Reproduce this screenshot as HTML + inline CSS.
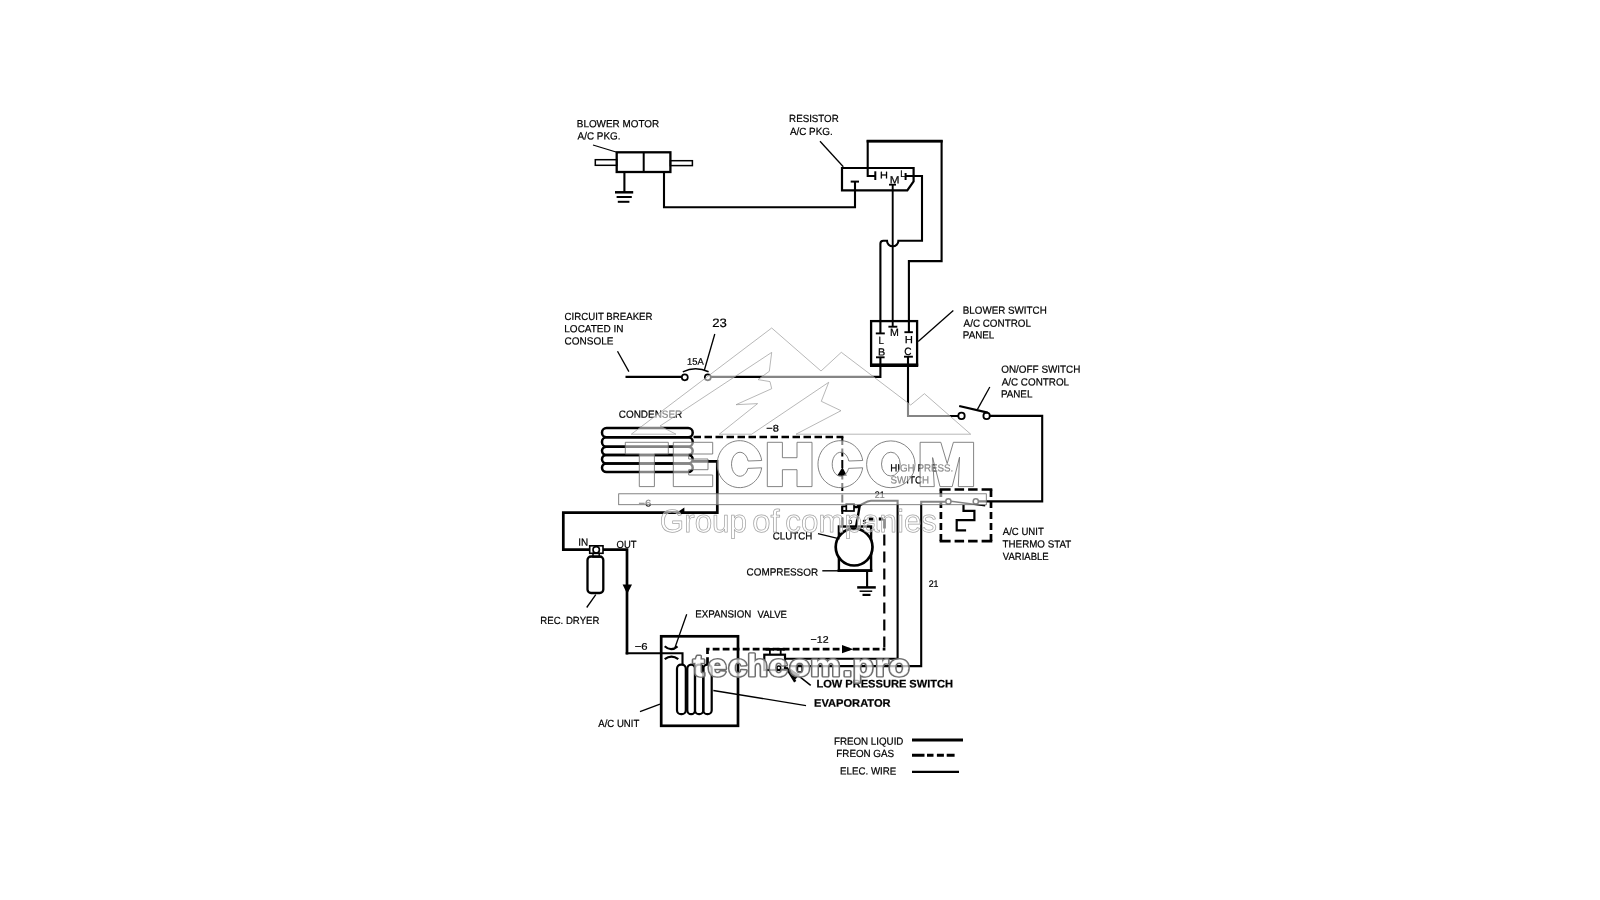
<!DOCTYPE html>
<html><head><meta charset="utf-8"><title>A/C schematic</title>
<style>
html,body{margin:0;padding:0;background:#fff;}
svg{display:block;}
text{font-family:"Liberation Sans",sans-serif;text-rendering:geometricPrecision;}
</style></head><body>
<svg width="1600" height="900" viewBox="0 0 1600 900" style="filter:grayscale(1)">
<rect width="1600" height="900" fill="#fff"/>
<g fill="none" stroke="#000" stroke-linejoin="miter" stroke-linecap="butt">
<rect x="616.7" y="152.3" width="53.7" height="19.7" rx="0" stroke-width="2.3" />
<path d="M643.7,152.3 L643.7,172.0" stroke-width="2.0" />
<rect x="595.3" y="159.7" width="21.4" height="5.6" rx="0" stroke-width="1.5" />
<rect x="670.4" y="160.7" width="22.0" height="4.9" rx="0" stroke-width="1.5" />
<path d="M593.0,145.0 L616.0,152.0" stroke-width="1.3" />
<path d="M624.4,172.0 L624.4,192.0" stroke-width="2.1" />
<path d="M615.0,192.3 L633.2,192.3" stroke-width="2.5" />
<path d="M616.6,197.0 L631.8,197.0" stroke-width="2.0" />
<path d="M617.8,201.8 L629.4,201.8" stroke-width="2.0" />
<path d="M664.0,172.0 L664.0,207.3 L855.0,207.3 L855.0,181.6" stroke-width="2.1" />
<path d="M842.0,168.0 L913.6,168.0 L913.6,181.3 L907.3,190.4 L842.0,190.4 Z" stroke-width="2.2" />
<path d="M850.7,181.6 L859.0,181.6" stroke-width="2.0" />
<path d="M875.3,176.0 L867.7,176.0 L867.7,141.3 L941.6,141.3 L941.6,261.1 L908.9,261.1 L908.9,332.2" stroke-width="2.1" />
<path d="M866.6,141.2 L942.7,141.2" stroke-width="2.7" />
<path d="M875.3,171.3 L875.3,180.0" stroke-width="2.0" />
<path d="M889.0,184.7 L896.0,184.7" stroke-width="1.8" />
<path d="M892.7,184.7 L892.7,326.7" stroke-width="1.9" />
<path d="M905.6,173.0 L905.6,180.0" stroke-width="2.0" />
<path d="M905.6,176 L922,176 L922,240.7 L898.4,240.7 A5.7 5.6 0 0 1 887,240.7 L883.4,240.7 Q880.4,240.7 880.4,243.7 L880.4,333.3" stroke-width="2.1"/>
<path d="M820.0,141.3 L843.3,166.7" stroke-width="1.3" />
<rect x="871.1" y="321.1" width="46.0" height="43.9" rx="0" stroke-width="2.3" />
<path d="M870.0,365.3 L918.2,365.3" stroke-width="3.4" />
<path d="M875.8,333.4 L884.8,333.4" stroke-width="1.9" />
<path d="M888.4,326.7 L897.3,326.7" stroke-width="1.9" />
<path d="M904.4,332.2 L912.9,332.2" stroke-width="1.9" />
<path d="M876.0,357.3 L884.6,357.3" stroke-width="1.9" />
<path d="M904.0,356.7 L912.9,356.7" stroke-width="1.9" />
<path d="M880.4,357.3 L880.4,376.9 L710.5,376.9" stroke-width="2.1" />
<path d="M908.0,356.7 L908.0,416.0 L958.4,416.0" stroke-width="2.1" />
<path d="M953.3,310.4 L918.2,341.6" stroke-width="1.3" />
<path d="M625.5,376.9 L682.0,376.9" stroke-width="2.1" />
<circle cx="684.8" cy="377.3" r="3.0" stroke-width="1.7" />
<circle cx="707.8" cy="377.3" r="3.0" stroke-width="1.7" />
<path d="M682.8,371.8 Q695.5,365.6 708.6,371.8" stroke-width="1.5"/>
<path d="M714.8,334.0 L704.4,370.0" stroke-width="1.3" />
<path d="M617.5,351.3 L628.9,371.6" stroke-width="1.3" />
<circle cx="961.5" cy="415.9" r="3.2" stroke-width="1.8" />
<circle cx="986.6" cy="415.9" r="3.2" stroke-width="1.8" />
<path d="M959.2,406.0 L987.7,412.7" stroke-width="2.3" />
<path d="M989.8,387.0 L977.3,409.6" stroke-width="1.3" />
<path d="M989.8,415.9 L1042.2,415.9 L1042.2,501.4 L978.4,501.4" stroke-width="2.1" />
<path d="M939.6,489.5 L992.3,489.5" stroke-width="2.7" stroke-dasharray="11 4 9.5 4 9.5 4 11"/>
<path d="M939.6,541.1 L992.3,541.1" stroke-width="2.7" stroke-dasharray="11 4 9.5 4 9.5 4 11"/>
<path d="M940.9,489.5 L940.9,541.1" stroke-width="2.7" stroke-dasharray="7.5 4 7 4 7 4 7 4 7.5"/>
<path d="M991.0,489.5 L991.0,541.1" stroke-width="2.7" stroke-dasharray="7.5 4 7 4 7 4 7 4 7.5"/>
<circle cx="948.4" cy="501.4" r="2.6" stroke-width="1.5" />
<circle cx="975.8" cy="501.4" r="2.6" stroke-width="1.5" />
<path d="M951.0,501.2 L985.2,505.7" stroke-width="1.5" />
<path d="M963.5,505.0 L963.5,510.8 L974.4,510.8 L974.4,520.1 L956.7,520.1 L956.7,530.3 L966.1,530.3" stroke-width="2.2" />
<path d="M945.8,501.8 L921.2,501.8 L921.2,666.1 L789.0,666.1" stroke-width="2.1" />
<rect x="602.0" y="428.0" width="90.7" height="9.3" rx="4.5" stroke-width="2.5" />
<rect x="602.0" y="437.3" width="90.7" height="9.4" rx="4.5" stroke-width="2.5" />
<rect x="602.0" y="446.7" width="90.7" height="8.3" rx="4.5" stroke-width="2.5" />
<rect x="602.0" y="455.0" width="90.7" height="8.5" rx="4.5" stroke-width="2.5" />
<rect x="602.0" y="463.5" width="90.7" height="8.5" rx="4.5" stroke-width="2.5" />
<path d="M693.5,437.0 L843.4,437.0" stroke-width="2.5" stroke-dasharray="7.5 3.5"/>
<path d="M842.3,437.0 L842.3,526.0" stroke-width="2.0" stroke-dasharray="8 3.5"/>
<path d="M842.4,467.2 L837.2,475.8 L847,475.8 Z" fill="#000" stroke="none"/>
<path d="M692.7,461.3 L717.3,461.3 L717.3,512.7 L563.3,512.7 L563.3,549.7 L589.5,549.7" stroke-width="2.7" />
<path d="M676.8,512.4 L684.4,507.6 L684.4,514 Z" fill="#000" stroke="none"/>
<rect x="589.7" y="545.8" width="13.3" height="7.5" rx="0" stroke-width="1.6" />
<circle cx="596.2" cy="549.8" r="3.2" stroke-width="1.6" />
<rect x="593.0" y="553.3" width="6.2" height="3.7" rx="0" stroke-width="1.5" />
<rect x="587.5" y="556.5" width="15.8" height="36.5" rx="3.5" stroke-width="2.3" />
<path d="M603.0,549.7 L627.0,549.7 L627.0,654.4" stroke-width="2.7" />
<path d="M625.7,653.3 L682.5,653.3 L682.5,664.5" stroke-width="2.1" />
<path d="M622.6,584.6 L632,584.6 L627.2,594 Z" fill="#000" stroke="none"/>
<path d="M595.8,594.7 L586.7,607.5" stroke-width="1.3" />
<rect x="661.2" y="636.3" width="76.8" height="89.5" rx="0" stroke-width="2.7" />
<path d="M664.7,646.3 Q671,652 677.5,646.3" stroke-width="2.2"/>
<path d="M664.7,659.2 Q671.5,654 678.3,659.2" stroke-width="2.2"/>
<path d="M686.7,614.2 L675.0,647.5" stroke-width="1.3" />
<rect x="677.0" y="664.7" width="8.8" height="49.5" rx="4" stroke-width="2.2" />
<rect x="687.3" y="664.7" width="7.7" height="49.5" rx="4" stroke-width="2.2" />
<rect x="695.0" y="664.7" width="8.3" height="49.5" rx="4" stroke-width="2.2" />
<rect x="703.3" y="664.7" width="8.4" height="49.5" rx="4" stroke-width="2.2" />
<path d="M707.5,664.0 L707.5,649.2 L885.4,649.2" stroke-width="2.7" stroke-dasharray="6.8 3.2"/>
<path d="M884.3,650.5 L884.3,519.0" stroke-width="2.2" stroke-dasharray="11 6" stroke-dashoffset="-3"/>
<path d="M884.3,519.0 L867.3,519.0" stroke-width="2.8" stroke-dasharray="4.5 5.5" stroke-dashoffset="-1"/>
<path d="M842,645.1 L842,653.3 L853.3,649.2 Z" fill="#000" stroke="none"/>
<path d="M640.0,711.7 L660.0,704.2" stroke-width="1.3" />
<path d="M713.3,690.5 L806.0,705.6" stroke-width="1.3" />
<rect x="764.3" y="654.7" width="20.7" height="15.3" rx="0" stroke-width="2.2" />
<path d="M769.9,649.3 L769.9,654.7" stroke-width="1.8" />
<path d="M780.7,649.3 L780.7,654.7" stroke-width="1.8" />
<path d="M765.6,649.3 L774.0,649.3" stroke-width="2.7" />
<path d="M776.8,649.3 L784.8,649.3" stroke-width="2.7" />
<path d="M785,658.7 L897.6,658.7 L897.6,500.7 L871,500.7 C865,500.7 863,505.5 857,506.3" stroke-width="2.1"/>
<circle cx="778.8" cy="668.0" r="1.9" stroke-width="1.5" />
<rect x="797.4" y="665.4" width="4.8" height="6.8" rx="1.5" stroke-width="1.7" />
<path d="M786.2,667.2 L795.2,681.8" stroke-width="2.6"/>
<path d="M788,668.5 L794.8,680 L799.8,674.6 Z" fill="#000" stroke="none"/>
<path d="M790.7,669.7 L810.7,685.3" stroke-width="1.5" />
<rect x="838.9" y="526.5" width="32.2" height="44.2" rx="0" stroke-width="2.4" />
<circle cx="854.1" cy="547.1" r="18.4" stroke-width="2.7" fill="#fff"/>
<path d="M822.3,570.8 L840.0,570.8" stroke-width="1.4" />
<path d="M837.7,570.7 L872.3,570.7" stroke-width="2.8" />
<path d="M867.1,570.7 L867.1,587.1" stroke-width="2.1" />
<path d="M857.2,587.4 L875.8,587.4" stroke-width="2.5" />
<path d="M859.6,591.2 L872.2,591.2" stroke-width="1.5" />
<path d="M862.5,594.9 L870.5,594.9" stroke-width="2.2" />
<path d="M818.0,533.7 L839.6,538.9" stroke-width="1.3" />
<rect x="846.3" y="504.0" width="7.7" height="7.0" rx="0" stroke-width="1.7" />
<path d="M846.3,506.4 L842.2,506.4 L842.2,510.8 L846.3,510.8" stroke-width="1.7" />
<path d="M854.0,507.0 L859.5,507.0 L856.0,527.0" stroke-width="2.4" />
<path d="M912.0,740.0 L963.0,740.0" stroke-width="3.0" />
<path d="M912.0,755.2 L954.6,755.2" stroke-width="3.0" stroke-dasharray="12.5 2.5 6.5 3.4 7 2.8 7.9 10"/>
<path d="M912.0,771.8 L959.0,771.8" stroke-width="2.2" />
</g>
<g fill="#000" stroke="#000" stroke-width="0.22">
<text font-size="10.4" transform="translate(576.81 127.30) rotate(0.03) scale(0.9527 1)" >BLOWER MOTOR</text>
<text font-size="10.4" transform="translate(577.60 139.60) rotate(0.03) scale(0.9513 1)" >A/C PKG.</text>
<text font-size="10.4" transform="translate(789.12 122.00) rotate(0.03) scale(0.9364 1)" >RESISTOR</text>
<text font-size="10.4" transform="translate(789.90 135.00) rotate(0.03) scale(0.9513 1)" >A/C PKG.</text>
<text font-size="10.4" transform="translate(564.62 319.80) rotate(0.03) scale(0.9306 1)" >CIRCUIT BREAKER</text>
<text font-size="10.4" transform="translate(564.30 332.30) rotate(0.03) scale(0.9615 1)" >LOCATED IN</text>
<text font-size="10.4" transform="translate(564.60 344.50) rotate(0.03) scale(0.9615 1)" >CONSOLE</text>
<text font-size="12.2" transform="translate(712.14 326.90) rotate(0.03) scale(1.0768 1)" >23</text>
<text font-size="9.6" transform="translate(687.09 364.80) rotate(0.03) scale(0.9804 1)" >15A</text>
<text font-size="10.4" transform="translate(962.81 313.80) rotate(0.03) scale(0.9444 1)" >BLOWER SWITCH</text>
<text font-size="10.4" transform="translate(963.60 326.70) rotate(0.03) scale(0.9481 1)" >A/C CONTROL</text>
<text font-size="10.4" transform="translate(962.81 338.40) rotate(0.03) scale(0.9445 1)" >PANEL</text>
<text font-size="10.4" transform="translate(1001.25 372.70) rotate(0.03) scale(0.9524 1)" >ON/OFF SWITCH</text>
<text font-size="10.4" transform="translate(1001.70 385.40) rotate(0.03) scale(0.9481 1)" >A/C CONTROL</text>
<text font-size="10.4" transform="translate(1000.91 397.50) rotate(0.03) scale(0.9445 1)" >PANEL</text>
<text font-size="10.4" transform="translate(618.80 417.70) rotate(0.03) scale(0.9554 1)" >CONDENSER</text>
<text font-size="9.6" transform="translate(766.31 431.50) rotate(0.03) scale(1.1453 1)" >−8</text>
<text font-size="10.4" transform="translate(890.22 471.40) rotate(0.03) scale(0.9416 1)" >HIGH PRESS.</text>
<text font-size="10.4" transform="translate(890.56 483.60) rotate(0.03) scale(0.9389 1)" >SWITCH</text>
<text font-size="9.6" transform="translate(874.86 498.00) rotate(0.03) scale(0.9236 1)" >21</text>
<text font-size="9.6" transform="translate(638.49 506.40) rotate(0.03) scale(1.1750 1)" >−6</text>
<text font-size="10.4" transform="translate(772.81 539.50) rotate(0.03) scale(0.9395 1)" >CLUTCH</text>
<text font-size="10.4" transform="translate(746.60 575.60) rotate(0.03) scale(0.9521 1)" >COMPRESSOR</text>
<text font-size="10.4" transform="translate(578.21 545.80) rotate(0.03) scale(0.9558 1)" >IN</text>
<text font-size="10.4" transform="translate(616.58 547.50) rotate(0.03) scale(0.9075 1)" >OUT</text>
<text font-size="10.4" transform="translate(540.33 623.80) rotate(0.03) scale(0.9240 1)" >REC. DRYER</text>
<text font-size="10.4" transform="translate(1002.80 534.60) rotate(0.03) scale(0.9220 1)" >A/C UNIT</text>
<text font-size="10.4" transform="translate(1002.60 547.60) rotate(0.03) scale(0.9402 1)" >THERMO STAT</text>
<text font-size="10.4" transform="translate(1002.80 559.60) rotate(0.03) scale(0.9162 1)" >VARIABLE</text>
<text font-size="9.6" transform="translate(928.66 586.50) rotate(0.03) scale(0.9236 1)" >21</text>
<text font-size="10.4" transform="translate(695.32 617.50) rotate(0.03) scale(0.9367 1)" >EXPANSION</text>
<text font-size="10.4" transform="translate(757.60 617.50) rotate(0.03) scale(0.9156 1)" >VALVE</text>
<text font-size="9.6" transform="translate(634.79 649.70) rotate(0.03) scale(1.1750 1)" >−6</text>
<text font-size="9.6" transform="translate(810.62 642.80) rotate(0.03) scale(1.1033 1)" >−12</text>
<text font-size="11.1" font-weight="bold" transform="translate(816.38 687.50) rotate(0.03) scale(0.9991 1)" >LOW PRESSURE SWITCH</text>
<text font-size="11" font-weight="bold" transform="translate(814.08 706.80) rotate(0.03) scale(1.0092 1)" >EVAPORATOR</text>
<text font-size="10.4" transform="translate(598.30 726.70) rotate(0.03) scale(0.9220 1)" >A/C UNIT</text>
<text font-size="10.4" transform="translate(833.92 744.70) rotate(0.03) scale(0.9402 1)" >FREON LIQUID</text>
<text font-size="10.4" transform="translate(836.32 756.90) rotate(0.03) scale(0.9432 1)" >FREON GAS</text>
<text font-size="10.4" transform="translate(840.12 774.60) rotate(0.03) scale(0.9352 1)" >ELEC. WIRE</text>
<text font-size="9.8" transform="translate(880.12 178.40) rotate(0.03) scale(1.1197 1)" >H</text>
<text font-size="10.6" transform="translate(889.76 183.60) rotate(0.03) scale(1.1041 1)" >M</text>
<text font-size="9.6" transform="translate(900.29 177.30) rotate(0.03) scale(0.9300 1)" >L</text>
<text font-size="10.6" transform="translate(890.05 336.00) rotate(0.03) scale(1.0063 1)" >M</text>
<text font-size="10.4" transform="translate(878.43 344.40) rotate(0.03) scale(0.9300 1)" >L</text>
<text font-size="10.4" transform="translate(878.03 355.60) rotate(0.03) scale(1.0424 1)" >B</text>
<text font-size="10.4" transform="translate(904.79 343.30) rotate(0.03) scale(1.0892 1)" >H</text>
<text font-size="10.6" transform="translate(904.20 355.10) rotate(0.03) scale(0.9508 1)" >C</text>
<text font-size="6" transform="translate(848.35 524.00) rotate(0.03) scale(0.9300 1)" >D</text>
<text font-size="6" transform="translate(862.55 524.00) rotate(0.03) scale(0.9300 1)" >S</text>
</g>
<g fill="#fff" fill-opacity="0.52" stroke="#9a9a9a" stroke-width="0.7" stroke-linejoin="miter">
<path d="M631.3,434.2 L771.7,328.0 L821.0,371.0 L841.3,352.3 L910.7,405.0 L924.4,393.7 L970.7,434.2 L796.0,434.2 L841.0,410.7 L821.3,401.3 L828.7,382.3 L751.7,434.2 L719.3,434.2 L757.6,403.6 L736.0,404.7 L771.7,388.7 L770.0,381.6 L758.0,379.6 L769.3,371.3 L771.7,352.4 L660.0,426.0 L676.0,434.2 Z"/>
</g>
<g fill="#fff" fill-opacity="0.52" stroke="#6e6e6e" stroke-width="0.85" stroke-linejoin="miter">
<path d="M625.3,442.3 L668.3,442.3 L668.3,454.0 L654.4,454.0 L654.4,486.6 L639.3,486.6 L639.3,454.0 L625.3,454.0 Z"/>
<path d="M673.3,442.3 L712.7,442.3 L712.7,454.0 L688.7,454.0 L688.7,459.0 L708.0,459.0 L708.0,469.7 L688.7,469.7 L688.7,475.0 L712.7,475.0 L712.7,486.6 L673.3,486.6 Z"/>
<path d="M767.3,442.3 L782.4,442.3 L782.4,457.7 L797.0,457.7 L797.0,442.3 L812.0,442.3 L812.0,486.6 L797.0,486.6 L797.0,469.7 L782.4,469.7 L782.4,486.6 L767.3,486.6 Z"/>
<path d="M920.1,442.3 L940.8,442.3 L947.2,463.6 L953.4,442.3 L973.6,442.3 L973.6,486.6 L958.3,486.6 L959.5,457.2 L952.2,486.6 L940.0,486.6 L932.6,457.6 L934.3,486.6 L920.1,486.6 Z"/>
<path d="M761.7,460.5 A22.4 23.5 0 1 0 761.7,467.8 L747.9,468.4 A8.45 12.0 0 1 1 748.1,461.0 Z"/>
<path d="M862.7,460.5 A22.5 23.5 0 1 0 862.7,467.8 L848.6,468.4 A8.45 12.0 0 1 1 848.8,461.0 Z"/>
<path fill-rule="evenodd" d="M866.6,464.3 A24.2 23.4 0 1 1 915,464.3 A24.2 23.4 0 1 1 866.6,464.3 Z M881.5,464.1 A9.35 11.9 0 1 0 900.2,464.1 A9.35 11.9 0 1 0 881.5,464.1 Z"/>
<rect x="618.7" y="493.8" width="367.6" height="10.9"/>
</g>
<g fill="#fff" fill-opacity="0.5" stroke="#a6a6a6" stroke-width="0.75" stroke-linejoin="round">
<text font-size="32" transform="translate(659.83 532.00) rotate(0.02) scale(0.9793 1)">Group</text><text font-size="32" transform="translate(752.19 532.00) rotate(0.02) scale(1.0259 1)">of</text><text font-size="32" transform="translate(785.35 532.00) rotate(0.02) scale(0.9802 1)">companies</text>
</g>
<mask id="pm" maskUnits="userSpaceOnUse" x="680" y="640" width="240" height="55"><rect x="680" y="640" width="240" height="55" fill="#fff"/><text font-size="30.6" font-weight="bold" x="624.29 637.71 656.18 673.28 692.67 711.14 730.04 759.32 768.33 788.60 800.78" y="0" transform="translate(0 676.45) scale(1.11 1)" stroke-linejoin="round" fill="#000" stroke="#000" stroke-width="0.3">techcom.pro</text></mask><g opacity="0.72"><text font-size="30.6" font-weight="bold" x="624.29 637.71 656.18 673.28 692.67 711.14 730.04 759.32 768.33 788.60 800.78" y="0" transform="translate(0 676.45) scale(1.11 1)" stroke-linejoin="round" fill="#fff" stroke="#fff" stroke-width="1.8">techcom.pro</text></g><g mask="url(#pm)"><text font-size="30.6" font-weight="bold" x="624.29 637.71 656.18 673.28 692.67 711.14 730.04 759.32 768.33 788.60 800.78" y="0" transform="translate(0 676.45) scale(1.11 1)" stroke-linejoin="round" fill="none" stroke="#6e6e6e" stroke-width="3.1">techcom.pro</text></g>
</svg>
</body></html>
